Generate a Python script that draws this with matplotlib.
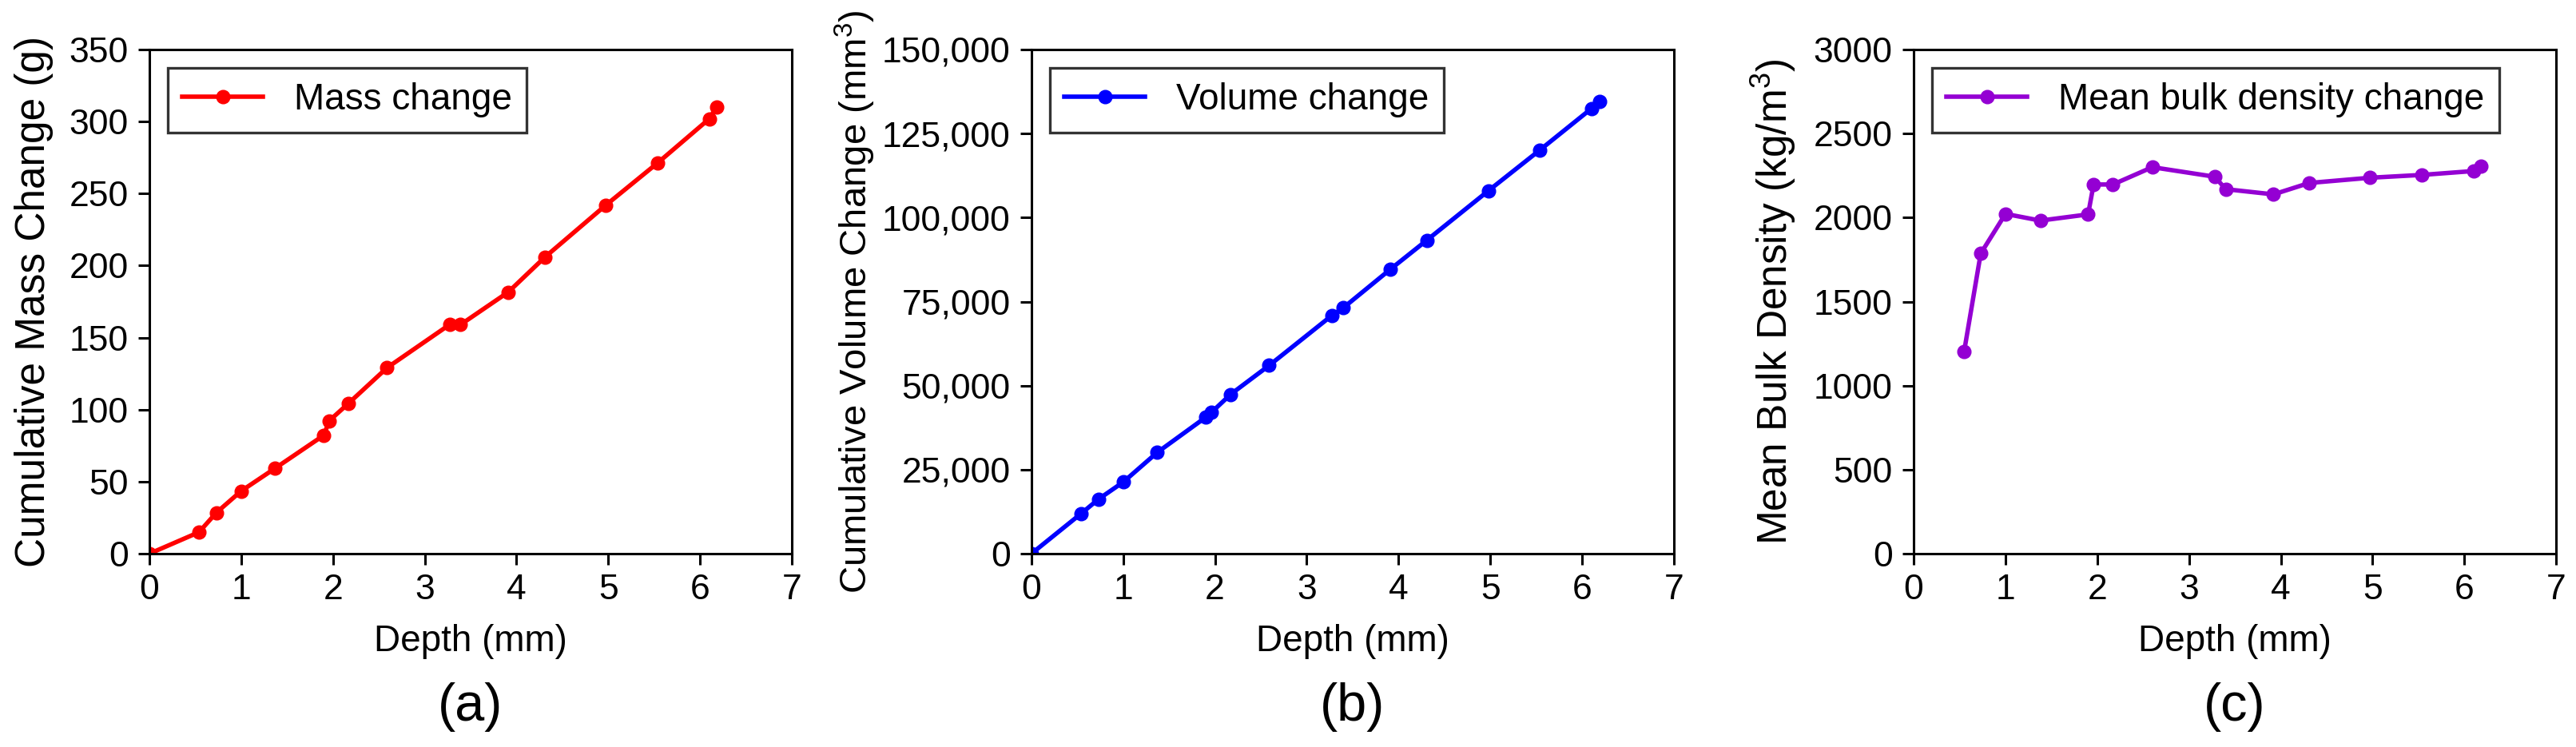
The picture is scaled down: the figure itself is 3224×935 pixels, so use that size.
import matplotlib
matplotlib.use("Agg")
import matplotlib.pyplot as plt
from matplotlib.ticker import StrMethodFormatter, MultipleLocator

plt.rcParams['font.family'] = ['Liberation Sans', 'DejaVu Sans']
plt.rcParams['mathtext.fontset'] = 'custom'
plt.rcParams['mathtext.rm'] = 'Liberation Sans'

# Data
depth_mass = [0.0, 0.54, 0.73, 1.00, 1.37, 1.90, 1.96, 2.17, 2.59, 3.27, 3.39, 3.91, 4.31, 4.97, 5.54, 6.10, 6.18]
mass_change = [0.0, 14.9, 28.5, 43.5, 59.3, 82.2, 92.3, 104.4, 129.1, 159.0, 159.0, 181.6, 205.9, 241.8, 271.4, 301.9, 310.1]

depth_vol = [0.0, 0.54, 0.73, 1.00, 1.37, 1.90, 1.96, 2.17, 2.59, 3.27, 3.40, 3.91, 4.31, 4.98, 5.54, 6.10, 6.19]
volume_change = [0, 11900, 16200, 21300, 30100, 40600, 42000, 47400, 56000, 70800, 73200, 84600, 93300, 108000, 120100, 132400, 134600]

depth_dens = [0.55, 0.73, 1.00, 1.38, 1.90, 1.96, 2.17, 2.60, 3.28, 3.40, 3.92, 4.31, 4.97, 5.54, 6.10, 6.18]
bulk_density = [1205, 1786, 2022, 1982, 2019, 2197, 2197, 2300, 2243, 2169, 2138, 2206, 2237, 2254, 2277, 2308]

panels = [
    dict(x=depth_mass, y=mass_change, color='#ff0000', label='Mass change',
         ylabel='Cumulative Mass Change (g)', ylim=(0, 350), ystep=50, fmt=None, tag='(a)',
         left=0.0580, ypad=14, yfs=37),
    dict(x=depth_vol, y=volume_change, color='#0000ff', label='Volume change',
         ylabel='Cumulative Volume Change (mm$^\\mathregular{3}$)', ylim=(0, 150000), ystep=25000,
         fmt='{x:,.0f}', tag='(b)', left=0.4004, ypad=4, yfs=34),
    dict(x=depth_dens, y=bulk_density, color='#9400d3', label='Mean bulk density change',
         ylabel='Mean Bulk Density (kg/m$^\\mathregular{3}$)', ylim=(0, 3000), ystep=500, fmt=None,
         tag='(c)', left=0.7429, ypad=14, yfs=37),
]

fig = plt.figure(figsize=(32.24, 9.35), dpi=100)
FS = 32

for p in panels:
    ax = fig.add_axes([p['left'], 0.2588, 0.2494, 0.6749])
    ax.plot(p['x'], p['y'], color=p['color'], lw=4, marker='o', ms=12, label=p['label'])
    ax.set_xlim(0, 7)
    ax.set_ylim(*p['ylim'])
    ax.xaxis.set_major_locator(MultipleLocator(1))
    ax.yaxis.set_major_locator(MultipleLocator(p['ystep']))
    if p['fmt']:
        ax.yaxis.set_major_formatter(StrMethodFormatter(p['fmt']))
    for s in ax.spines.values():
        s.set_linewidth(2.2)
    ax.tick_params(direction='out', length=10, width=2.2, labelsize=FS)
    ax.tick_params(axis='x', pad=8)
    ax.tick_params(axis='y', pad=9)
    ax.set_xlabel('Depth (mm)', fontsize=33, labelpad=16)
    ax.set_ylabel(p['ylabel'], fontsize=p['yfs'], labelpad=p['ypad'])
    leg = ax.legend(loc='upper left', fontsize=33, numpoints=1, handlelength=2.2,
                    handletextpad=0.85, fancybox=False, framealpha=1, borderpad=0.4)
    leg.get_frame().set_edgecolor('#333333')
    leg.get_frame().set_linewidth(2.4)
    ax.text(0.5, -0.304, p['tag'], transform=ax.transAxes, ha='center', va='center', fontsize=48)

fig.savefig('out.png', dpi=100)
